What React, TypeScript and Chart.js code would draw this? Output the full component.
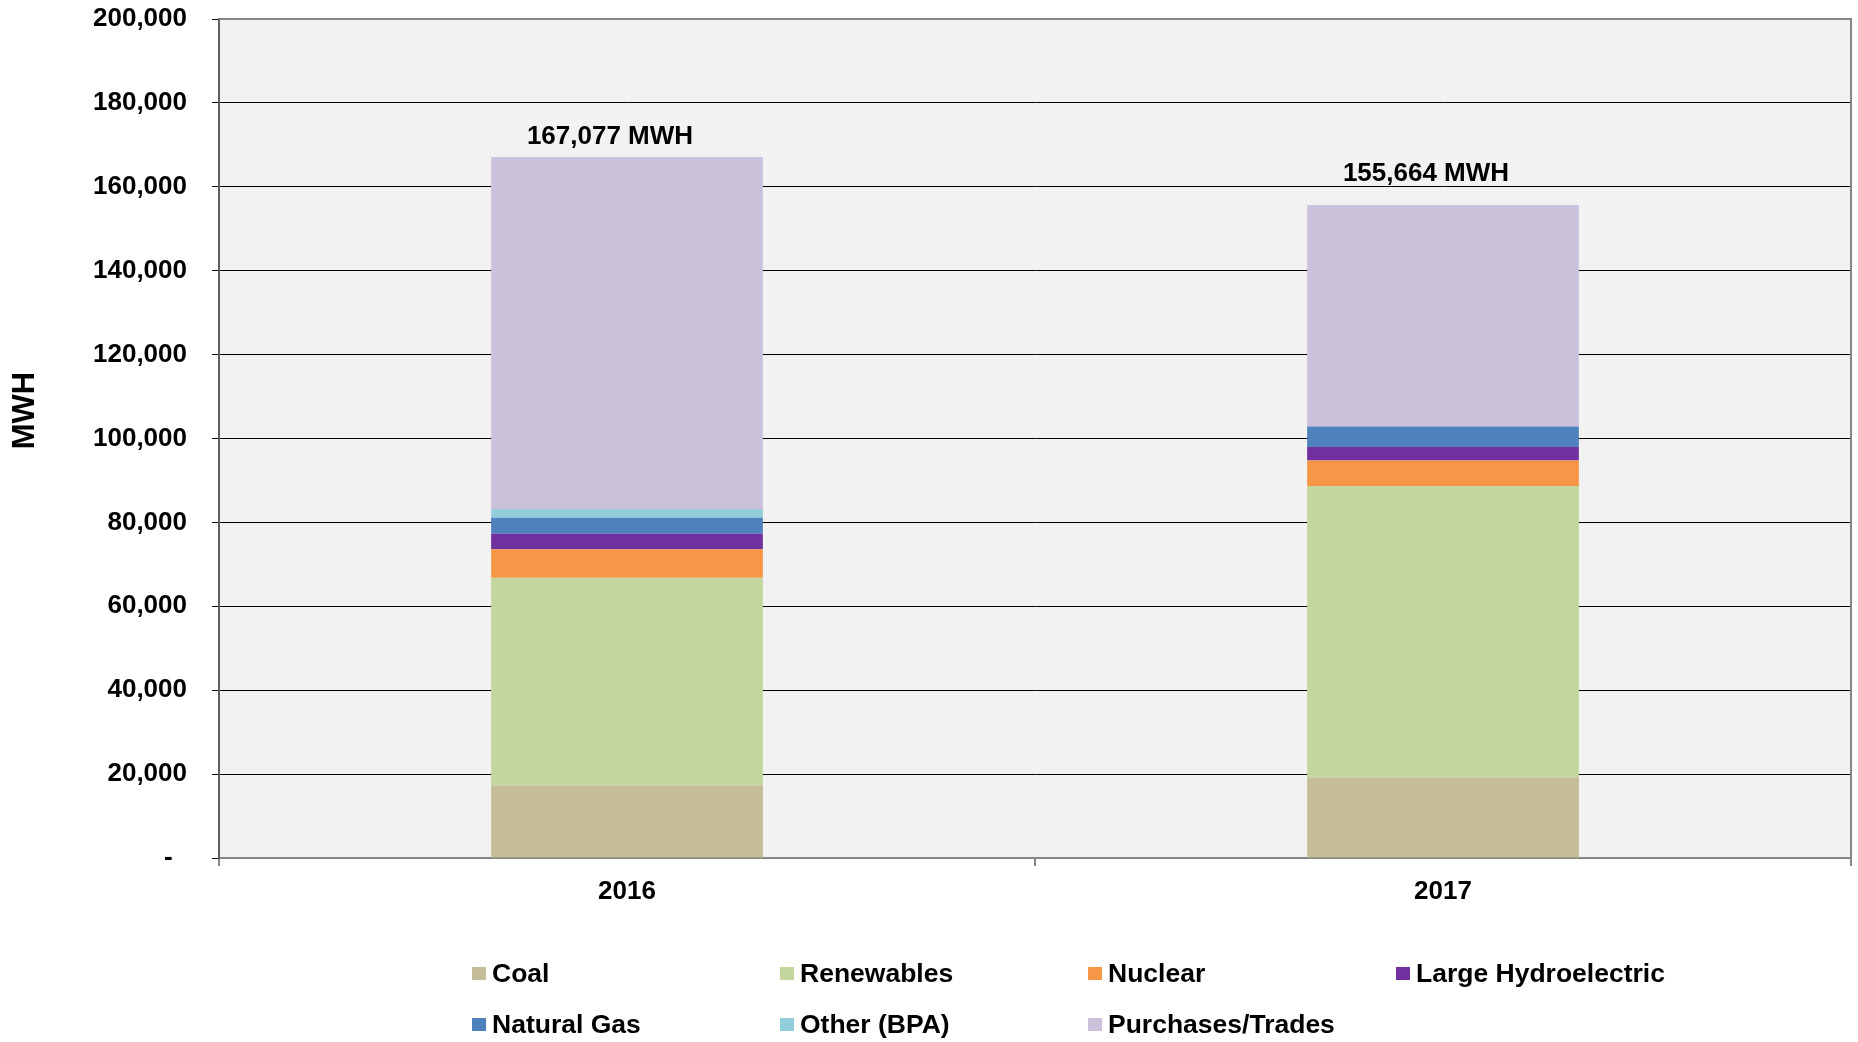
import React, { useEffect, useRef } from "react";
import { Chart, registerables } from "chart.js";

Chart.register(...registerables);

const categories = ["2016", "2017"];
const seriesNames = [
  "Coal",
  "Renewables",
  "Nuclear",
  "Large Hydroelectric",
  "Natural Gas",
  "Other (BPA)",
  "Purchases/Trades",
];
const seriesColors = [
  "#C4BD97",
  "#C3D69B",
  "#F79646",
  "#7030A0",
  "#4F81BD",
  "#92CDDC",
  "#CCC1DA",
];
const coal = [17300, 19200];
const renewables = [49500, 69450];
const nuclear = [6800, 6100];
const largeHydro = [3700, 3250];
const naturalGas = [3800, 4850];
const otherBPA = [2070, 0];
const purchases = [83907, 52814];
const seriesValues = [coal, renewables, nuclear, largeHydro, naturalGas, otherBPA, purchases];

const yTicks = [0, 20000, 40000, 60000, 80000, 100000, 120000, 140000, 160000, 180000, 200000];

const FONT = "'Liberation Sans', Arial, sans-serif";

const bgPlugin = {
  id: "bgPlugin",
  beforeDraw(chart: any) {
    const { ctx, chartArea, width, height } = chart;
    ctx.save();
    ctx.fillStyle = "#FFFFFF";
    ctx.fillRect(0, 0, width, height);
    ctx.fillStyle = "#F2F2F2";
    ctx.fillRect(chartArea.left, chartArea.top, chartArea.right - chartArea.left, chartArea.bottom - chartArea.top);
    ctx.restore();
  },
  afterDraw(chart: any) {
    const { ctx, chartArea } = chart;
    ctx.save();
    // right & top border
    ctx.strokeStyle = "#868686";
    ctx.lineWidth = 2;
    ctx.beginPath();
    ctx.moveTo(chartArea.left, chartArea.top);
    ctx.lineTo(chartArea.right, chartArea.top);
    ctx.lineTo(chartArea.right, chartArea.bottom);
    ctx.stroke();

    // totals labels
    const xs = chart.scales.x;
    const ys = chart.scales.y;
    const gaps = [13, 24];
    ctx.fillStyle = "#000";
    ctx.font = `bold 26px ${FONT}`;
    ctx.textAlign = "center";
    ctx.textBaseline = "alphabetic";
    categories.forEach((_, i) => {
      let total = 0;
      chart.data.datasets.forEach((d: any) => (total += d.data[i]));
      const x = xs.getPixelForValue(i) - 17;
      const y = ys.getPixelForValue(total) - gaps[i];
      ctx.fillText(`${total.toLocaleString("en-US")} MWH`, x, y);
    });

    // y title
    ctx.save();
    ctx.translate(25, (chartArea.top + chartArea.bottom) / 2 - 28);
    ctx.rotate(-Math.PI / 2);
    ctx.font = `bold 31px ${FONT}`;
    ctx.textAlign = "center";
    ctx.textBaseline = "middle";
    ctx.fillText("MWH", 0, 0);
    ctx.restore();

    // legend
    ctx.font = `bold 26.5px ${FONT}`;
    ctx.textAlign = "left";
    ctx.textBaseline = "middle";
    chart.data.datasets.forEach((d: any, i: number) => {
      const col = i % 4;
      const row = Math.floor(i / 4);
      const x = 472 + col * 308;
      const y = 974 + row * 51;
      ctx.fillStyle = d.backgroundColor;
      ctx.fillRect(x, y - 7, 14, 13);
      ctx.fillStyle = "#000";
      ctx.fillText(d.label, x + 20, y + 1);
    });
    ctx.restore();
  },
};

export default function App() {
  const ref = useRef<HTMLCanvasElement | null>(null);
  useEffect(() => {
    document.body.style.margin = "0";
    if (!ref.current) return;
    const chart = new Chart(ref.current, {
      type: "bar",
      data: {
        labels: categories,
        datasets: seriesNames.map((name, i) => ({
          label: name,
          data: seriesValues[i],
          backgroundColor: seriesColors[i],
          borderWidth: 0,
          categoryPercentage: 1,
          barPercentage: 0.333,
        })),
      },
      options: {
        animation: false,
        responsive: true,
        maintainAspectRatio: false,
        devicePixelRatio: 1,
        layout: { padding: { top: 19, right: 7, left: 0, bottom: 0 } },
        plugins: {
          legend: { display: false },
          tooltip: { enabled: false },
        },
        scales: {
          x: {
            stacked: true,
            offset: true,
            afterFit: (s: any) => {
              s.height = 184;
              s.paddingLeft = 0;
              s.paddingRight = 0;
            },
            grid: {
              offset: true,
              drawOnChartArea: false,
              drawTicks: true,
              tickLength: 8,
              color: "#868686",
              lineWidth: 2,
            },
            border: { color: "#868686", width: 2 },
            ticks: {
              color: "#000",
              font: { family: FONT, size: 26, weight: "bold" },
              padding: 10,
            },
          },
          y: {
            stacked: true,
            min: 0,
            max: 200000,
            afterFit: (s: any) => {
              s.width = 219;
              s.paddingTop = 0;
              s.paddingBottom = 0;
            },
            afterBuildTicks: (s: any) => {
              s.ticks = yTicks.map((v) => ({ value: v }));
            },
            grid: {
              color: (c: any) => (c.tick && c.tick.value === 200000 ? "#868686" : "#000"),
              lineWidth: 1,
              tickLength: 7,
              tickColor: "#000",
            },
            border: { color: "#606060", width: 2 },
            ticks: {
              color: "#000",
              font: { family: FONT, size: 26, weight: "bold" },
              padding: 25,
              callback: (v: any) => (Number(v) === 0 ? "-  " : Number(v).toLocaleString("en-US")),
            },
          },
        },
      },
      plugins: [bgPlugin],
    });
    return () => chart.destroy();
  }, []);
  return (
    <div style={{ width: 1858, height: 1042, position: "relative" }}>
      <canvas ref={ref} />
    </div>
  );
}
